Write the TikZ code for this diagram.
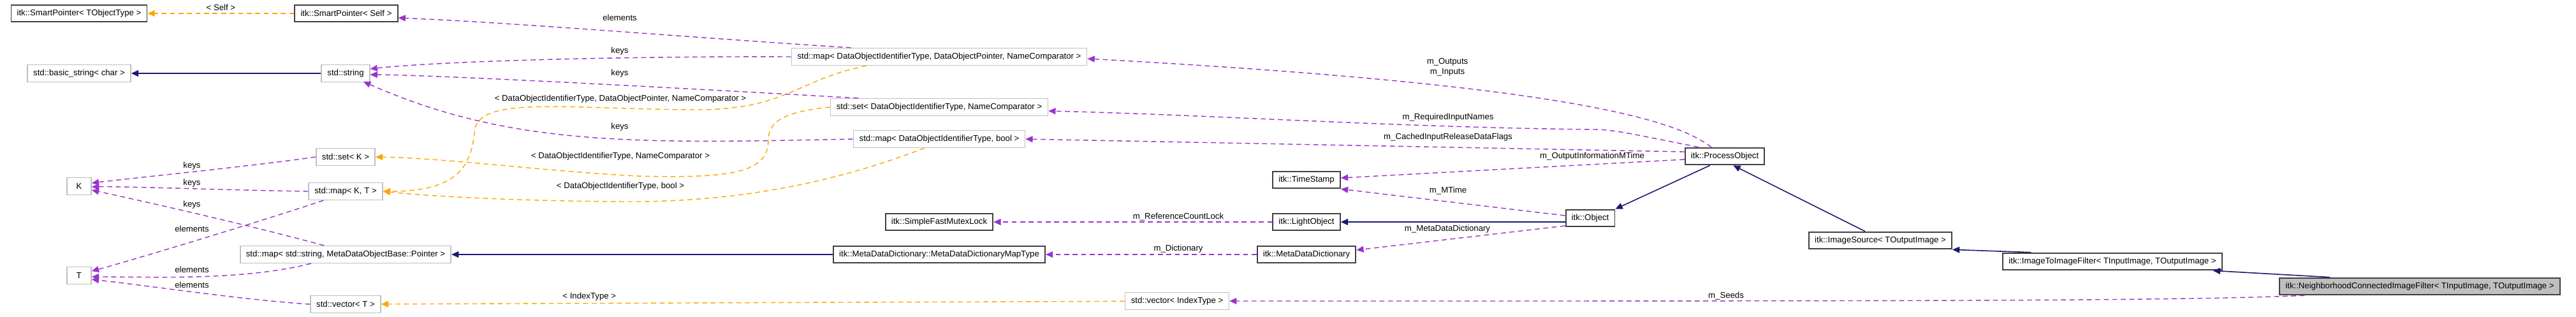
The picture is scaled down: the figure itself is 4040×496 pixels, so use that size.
\documentclass[tikz,border=0pt]{standalone}
\usepackage{fontspec}
\setmainfont{Liberation Sans}
\usetikzlibrary{arrows.meta, calc}

\definecolor{usecol}{HTML}{9A32CD}
\definecolor{tplcol}{HTML}{FFA500}
\definecolor{inhcol}{HTML}{191970}

\tikzset{
  cls/.style={draw=black!75, line width=0.55pt, fill=white, inner xsep=2.6pt,
    inner ysep=0pt, minimum height=7.6pt, font=\fontsize{3.75}{4.5}\selectfont},
  ext/.style={cls, draw=black!25, line width=0.45pt},
  lbl/.style={inner sep=0pt, font=\fontsize{3.75}{4.5}\selectfont},
  use/.style={draw=usecol, line width=0.4pt, dash pattern=on 2.2pt off 1.6pt,
    -{Triangle[length=3.2pt,width=2.8pt]}},
  tpl/.style={use, draw=tplcol},
  inh/.style={draw=inhcol, line width=0.45pt, -{Triangle[length=3.2pt,width=2.8pt]}},
}

\begin{document}
\begin{tikzpicture}[x=0.01cm, y=-0.01cm]
    \useasboundingbox (0,0) rectangle (4040,496);

    % left columns
    \node (SPT) at (124,21) [cls] {itk::SmartPointer< TObjectType >};
    \node (SPS) at (543,21) [cls] {itk::SmartPointer< Self >};
    \node (BS) at (124,115) [ext] {std::basic\_string< char >};
    \node (STR) at (542,115) [ext] {std::string};
    \node (SETK) at (542,246) [ext] {std::set< K >};
    \node (K) at (124,292) [ext, minimum width=10.8pt] {K};
    \node (MAPKT) at (542,300) [ext] {std::map< K, T >};
    \node (MAPSTR) at (542,399) [ext] {std::map< std::string, MetaDataObjectBase::Pointer >};
    \node (T) at (124,432) [ext, minimum width=10.8pt] {T};
    \node (VECT) at (542,477) [ext] {std::vector< T >};

    % middle column
    \node (MAPDOP) at (1473,89) [ext] {std::map< DataObjectIdentifierType, DataObjectPointer, NameComparator >};
    \node (SETDO) at (1473,168) [ext] {std::set< DataObjectIdentifierType, NameComparator >};
    \node (MAPBOOL) at (1473,218) [ext] {std::map< DataObjectIdentifierType, bool >};
    \node (MUTEX) at (1473,348) [cls] {itk::SimpleFastMutexLock};
    \node (MDMAP) at (1473,399) [cls] {itk::MetaDataDictionary::MetaDataDictionaryMapType};
    \node (VECIDX) at (1846,472) [ext] {std::vector< IndexType >};

    % right part
    \node (TS) at (2049,282) [cls] {itk::TimeStamp};
    \node (LO) at (2049,348) [cls] {itk::LightObject};
    \node (MDD) at (2049,399) [cls] {itk::MetaDataDictionary};
    \node (PO) at (2705,245) [cls] {itk::ProcessObject};
    \node (OBJ) at (2494,342) [cls] {itk::Object};
    \node (IS) at (2949,377) [cls] {itk::ImageSource< TOutputImage >};
    \node (ITIF) at (3313,410) [cls] {itk::ImageToImageFilter< TInputImage, TOutputImage >};
    \node (NCIF) at (3795,449) [cls, fill=black!25] {itk::NeighborhoodConnectedImageFilter< TInputImage, TOutputImage >};

    % inheritance
    \draw[inh] (STR) -- (BS);
    \draw[inh] (MDMAP) -- (MAPSTR);
    \draw[inh] (OBJ.west |- LO) -- (LO);
    \draw[inh] ($(PO.south west)+(40,0)$) -- (OBJ.north east);
    \draw[inh] ($(IS.north)+(-24,0)$) -- ($(PO.south east)+(-50,0)$);
    \draw[inh] ($(ITIF.north west)+(45,0)$) -- (IS.south east);
    \draw[inh] ($(NCIF.north west)+(80,0)$) -- ($(ITIF.south east)+(-15,0)$);

    % template instances
    \draw[tpl] (SPS) -- (SPT) node (lSelf) [lbl, midway, above=1pt] {< Self >};
    \draw[tpl] (VECIDX) -- (VECT) node (lIdx) [lbl, pos=0.72, above=1pt] {< IndexType >};
    \draw[tpl] ($(MAPDOP.south west)+(118,0)$) .. controls (1250,125) and (1235,170) .. (1100,172)
        .. controls (900,172) and (760,150) .. (745,200)
        .. controls (740,260) and (720,300) .. (MAPKT.east);
    \draw[tpl] (SETDO.west) .. controls (1230,175) and (1205,190) .. (1205,220)
        .. controls (1205,270) and (1150,280) .. (1000,276)
        .. controls (850,268) and (700,248) .. (SETK.east);
    \draw[tpl] ($(MAPBOOL.south west)+(112,0)$) .. controls (1300,290) and (1150,315) .. (1000,316)
        .. controls (850,316) and (700,310) .. (MAPKT.east);
    \node (lDOP) at (973,155) [lbl] {< DataObjectIdentifierType, DataObjectPointer, NameComparator >};
    \node (lNC) at (973,245) [lbl] {< DataObjectIdentifierType, NameComparator >};
    \node (lBool) at (973,292) [lbl] {< DataObjectIdentifierType, bool >};

    % usage
    \draw[use] ($(MAPDOP.north west)+(94,0)$) .. controls (1100,60) and (800,35) .. (SPS.east |- 0,28);
    \draw[use] (MAPDOP.west) .. controls (1000,88) and (700,95) .. (STR.east |- 0,108);
    \draw[use] ($(SETDO.north west)+(44,0)$) .. controls (1100,140) and (700,118) .. (STR.east |- 0,117);
    \draw[use] (MAPBOOL.west) .. controls (1000,225) and (800,230) .. (570,128);
    \node (lE1) at (972,28) [lbl] {elements};
    \node (lK1) at (972,80) [lbl] {keys};
    \node (lK2) at (972,115) [lbl] {keys};
    \node (lK3) at (972,199) [lbl] {keys};

    \draw[use] (SETK.west) .. controls (400,260) and (200,280) .. (K.east |- 0,287);
    \draw[use] (MAPKT.west) .. controls (350,298) and (200,292) .. (K.east |- 0,293);
    \draw[use] ($(MAPSTR.north west)+(132,0)$) .. controls (380,350) and (200,310) .. (K.east |- 0,298);
    \draw[use] ($(MAPKT.south west)+(24,0)$) .. controls (400,350) and (200,410) .. (T.east |- 0,425);
    \draw[use] ($(MAPSTR.south west)+(112,0)$) .. controls (380,440) and (250,434) .. (T.east |- 0,434);
    \draw[use] (VECT.west) .. controls (380,470) and (250,450) .. (T.east |- 0,438);
    \node (lK4) at (301,260) [lbl] {keys};
    \node (lK5) at (301,287) [lbl] {keys};
    \node (lK6) at (301,321) [lbl] {keys};
    \node (lE2) at (301,359) [lbl] {elements};
    \node (lE3) at (301,423) [lbl] {elements};
    \node (lE4) at (301,447) [lbl] {elements};

    \draw[use] ($(PO.north west)+(42,0)$) .. controls (2620,180) and (2400,130) .. (MAPDOP.east |- 0,92);
    \draw[use] ($(PO.north west)+(22,0)$) .. controls (2560,210) and (2530,203) .. (2500,203)
        .. controls (2200,200) and (1900,180) .. (SETDO.east |- 0,174);
    \draw[use] (PO.west |- 0,238) -- (MAPBOOL.east);
    \draw[use] (PO.west |- 0,250) -- (TS.east |- 0,279);
    \draw[use] (OBJ.west |- 0,338) -- (TS.south east);
    \draw[use] (OBJ.west |- 0,354) -- (MDD.east |- 0,392);
    \draw[use] (MDD) -- (MDMAP);
    \draw[use] (LO) -- (MUTEX);
    \draw[use] ($(NCIF.south west)+(40,0)$) .. controls (3400,472) and (3000,472) .. (VECIDX.east);
    \node (lOut) at (2270,97) [lbl] {m\_Outputs};
    \node (lIn) at (2270,113) [lbl] {m\_Inputs};
    \node (lReq) at (2271,184) [lbl] {m\_RequiredInputNames};
    \node (lCach) at (2271,215) [lbl] {m\_CachedInputReleaseDataFlags};
    \node (lOIM) at (2497,245) [lbl] {m\_OutputInformationMTime};
    \node (lMT) at (2271,299) [lbl] {m\_MTime};
    \node (lMDD) at (2270,359) [lbl] {m\_MetaDataDictionary};
    \node (lRC) at (1848,340) [lbl] {m\_ReferenceCountLock};
    \node (lDic) at (1848,390) [lbl] {m\_Dictionary};
    \node (lSeed) at (2707,464) [lbl] {m\_Seeds};
\end{tikzpicture}
\end{document}
